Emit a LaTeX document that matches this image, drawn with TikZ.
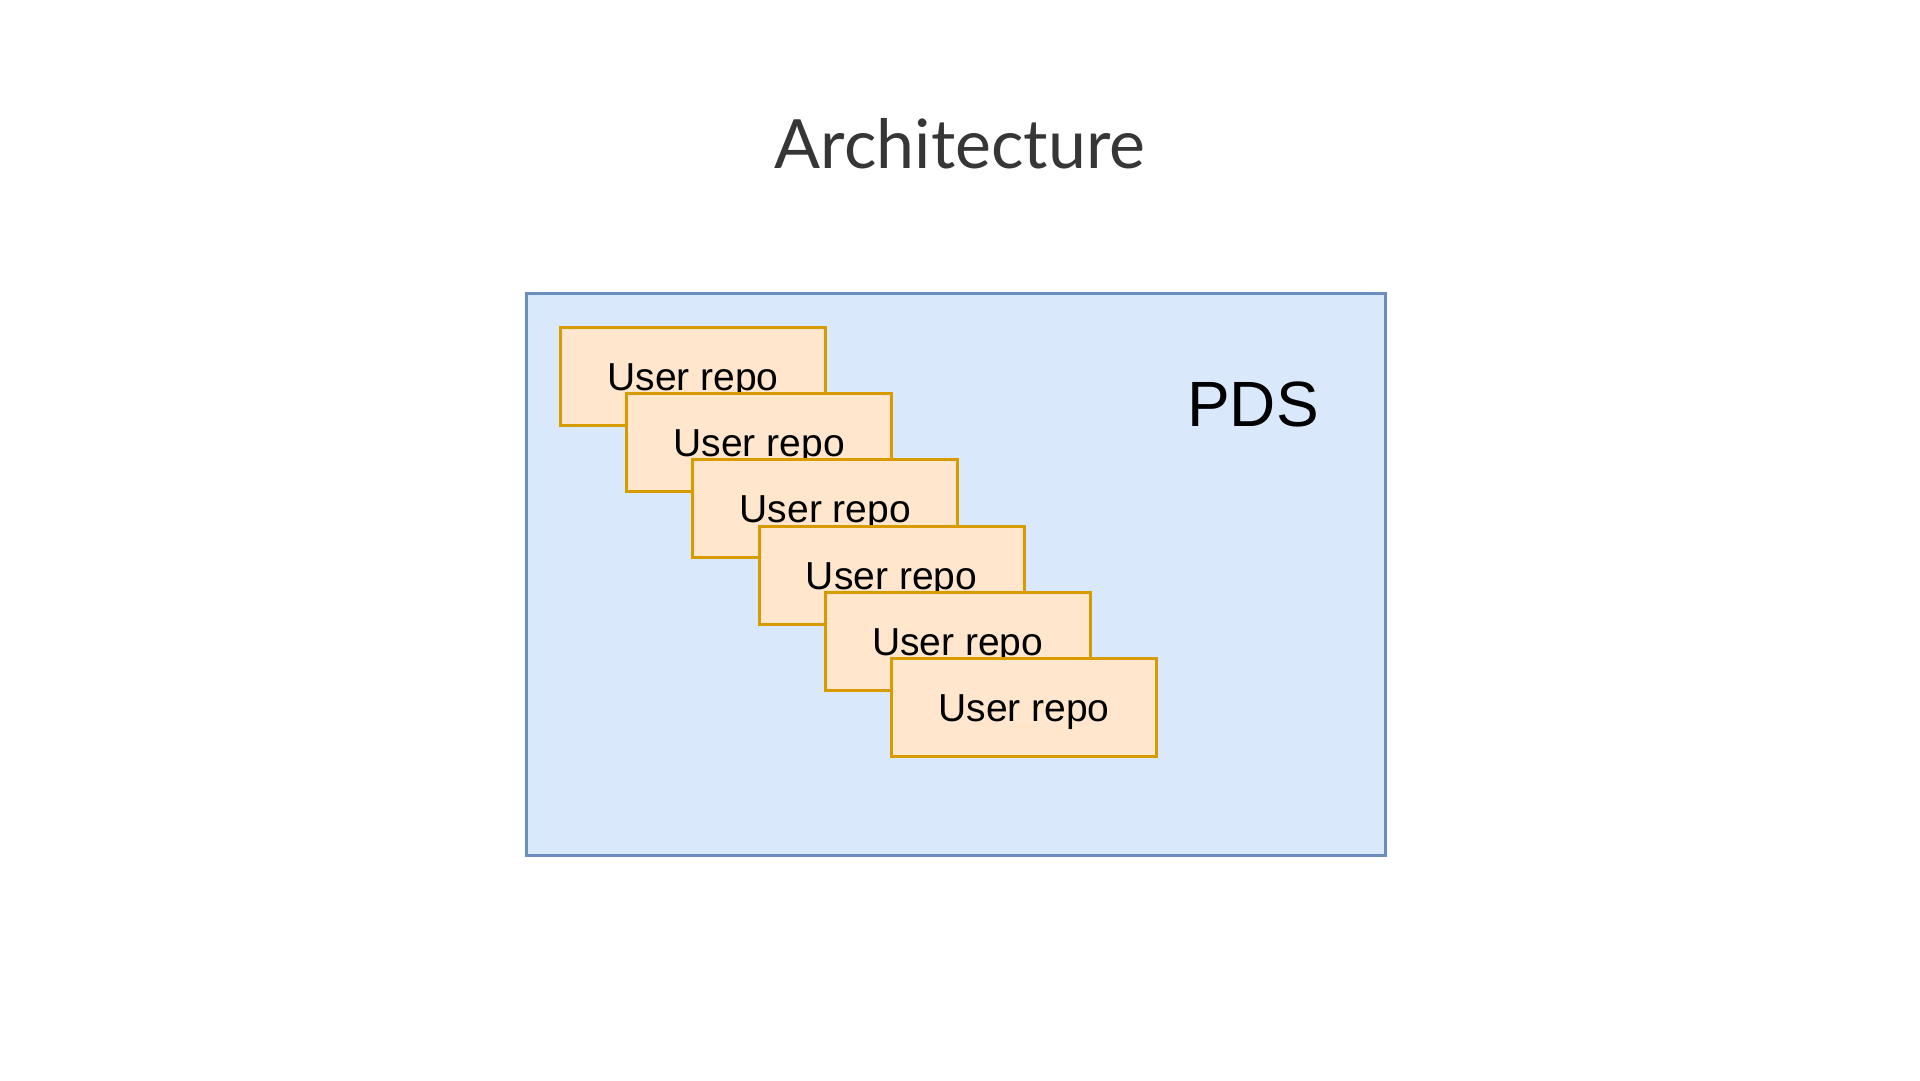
\documentclass[tikz,border=0pt]{standalone}
\usepackage{fontspec}
\setmainfont{Liberation Sans}
\newfontfamily\titlefont{Lato}
\usepackage{xcolor}
\definecolor{pdsfill}{HTML}{DAE8FC}
\definecolor{pdsline}{HTML}{6C8EBF}
\definecolor{repofill}{HTML}{FFE6CC}
\definecolor{repoline}{HTML}{D79B00}
\definecolor{titlegray}{HTML}{363636}
\usetikzlibrary{positioning}

\begin{document}
\begin{tikzpicture}[x=1pt, y=-1pt,
  pdsbox/.style={draw=pdsline, fill=pdsfill, line width=3pt,
    minimum width=859pt, minimum height=562pt, inner sep=0pt},
  repo/.style={draw=repoline, fill=repofill, line width=3pt,
    minimum width=265pt, minimum height=98pt, inner sep=0pt,
    text height=28pt, text depth=0pt,
    font=\fontsize{39pt}{44pt}\selectfont, anchor=north west}]

  \useasboundingbox (0,0) rectangle (1920,1080);

  \node[font=\titlefont\fontsize{68pt}{74pt}\selectfont, text=titlegray, anchor=base]
    (title) at (960,168) {Architecture};

  % Le conteneur PDS
  \node[pdsbox] (pds) at (955.5,574) {};
  \node[font=\fontsize{64pt}{70pt}\selectfont, anchor=base] (pdslabel) at (1253,426) {PDS};

  % Pile de dépôts utilisateurs, décalés en diagonale
  \node[repo] (r1) at (559,326) {User repo};
  \foreach \i [count=\j from 1] in {2,...,6}
    \node[repo] (r\i) at ([shift={(66.2,66.2)}]r\j.north west) {User repo};
\end{tikzpicture}
\end{document}
